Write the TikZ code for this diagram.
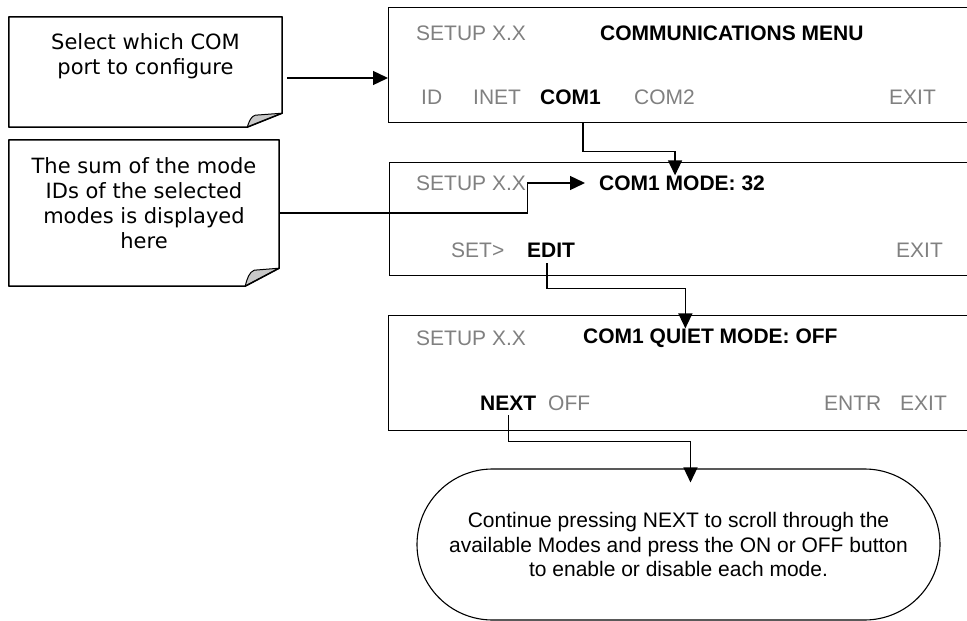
\documentclass[tikz,border=0pt]{standalone}
\usepackage{fontspec}
\setmainfont{Liberation Sans}
\newfontfamily\notefont{DejaVu Sans}
\usetikzlibrary{arrows.meta, positioning}
\definecolor{scrgray}{HTML}{808080}
\definecolor{curlgray}{HTML}{C8C8C8}
\tikzset{
  scr/.style     = {draw, line width=1.4pt, anchor=north west, inner sep=0pt},
  scrdim/.style  = {font=\fontsize{21}{25}\selectfont, text=scrgray, anchor=west, inner sep=0pt},
  scrkey/.style  = {scrdim, text=black, font=\fontsize{21}{25}\selectfont\bfseries},
  callout/.style = {inner sep=0pt},
  calltxt/.style = {font=\notefont\fontsize{21}{25}\selectfont, align=center, inner sep=0pt},
  callline/.style= {line width=1.5pt, line join=round},
  curl/.style    = {draw, line width=1pt, fill=curlgray, line join=round},
  flow/.style    = {-{Triangle[length=15pt, width=14pt]}, line width=1.4pt},
  pill/.style    = {draw, line width=1.1pt, rounded corners=75.5pt, minimum width=523pt,
                    minimum height=151pt, align=center, inner sep=0pt,
                    font=\fontsize{21}{24.5}\selectfont}
}

\begin{document}
\begin{tikzpicture}[x=1pt, y=-1pt]
  \useasboundingbox (0,0) rectangle (967,621);

  \node[scr, minimum width=584pt, minimum height=115pt] (scr1) at (388,7) {};
  \node[scrdim] (s1setup) at (416,33) {SETUP X.X};
  \node[scrkey] (s1title) at (600,33) {COMMUNICATIONS MENU};
  \node[scrdim] (s1id)    at (421,97) {ID};
  \node[scrdim] (s1inet)  at (473,97) {INET};
  \node[scrkey] (com1)    at (540,97) {COM1};
  \node[scrdim] (com2)    at (634,97) {COM2};
  \node[scrdim] (s1exit)  at (889,97) {EXIT};

  \node[scr, minimum width=583pt, minimum height=113pt] (scr2) at (389,162) {};
  \node[scrdim] (s2setup) at (416,183) {SETUP X.X};
  \node[scrkey] (mode)    at (599,183) {COM1 MODE: 32};
  \node[scrdim] (s2set)   at (451,250) {SET>};
  \node[scrkey] (edit)    at (527,250) {EDIT};
  \node[scrdim] (s2exit)  at (896,250) {EXIT};

  \node[scr, minimum width=584pt, minimum height=115pt] (scr3) at (388,315) {};
  \node[scrdim] (s3setup) at (416,338) {SETUP X.X};
  \node[scrkey] (quiet)   at (583,338) {COM1 QUIET MODE: OFF};
  \node[scrkey] (next)    at (480,403) {NEXT};
  \node[scrdim] (s3off)   at (548,403) {OFF};
  \node[scrdim] (s3entr)  at (824,403) {ENTR};
  \node[scrdim] (s3exit)  at (900,403) {EXIT};

  \node[callout, minimum width=273pt, minimum height=110pt] (cal1) at (145.5,72) {};
  \node[calltxt, below=17pt of cal1.north] (cal1txt) {Select which COM\\port to configure};
  \node[callout, minimum width=270pt, minimum height=146pt] (cal2) at (144,213) {};
  \node[calltxt, below=18pt of cal2.north] (cal2txt)
       {The sum of the mode\\IDs of the selected\\modes is displayed\\here};

  \draw[curl] ([xshift=-35pt]cal1.south east)
       .. controls ([xshift=-33pt,yshift=6pt]cal1.south east) and ([xshift=-31pt,yshift=11pt]cal1.south east)
       .. ([xshift=-27pt,yshift=12pt]cal1.south east) -- ([yshift=14pt]cal1.south east) -- cycle;
  \draw[callline] (cal1.north west) -- (cal1.north east) -- ([yshift=14pt]cal1.south east)
       -- ([xshift=-35pt]cal1.south east) -- (cal1.south west) -- cycle;
  \draw[curl] ([xshift=-34pt]cal2.south east)
       .. controls ([xshift=-32pt,yshift=8pt]cal2.south east) and ([xshift=-30pt,yshift=14pt]cal2.south east)
       .. ([xshift=-25pt,yshift=16pt]cal2.south east) -- ([yshift=18pt]cal2.south east) -- cycle;
  \draw[callline] (cal2.north west) -- (cal2.north east) -- ([yshift=18pt]cal2.south east)
       -- ([xshift=-34pt]cal2.south east) -- (cal2.south west) -- cycle;

  \node[pill] (endnote) at (678.5,544.5)
       {Continue pressing NEXT to scroll through the\\available Modes and press the ON or OFF button\\to enable or disable each mode.};

  \coordinate (c1in) at ([yshift=-6pt]cal1.east);
  \coordinate (c2a) at ([xshift=12.5pt]com1.south);
  \draw[flow] ([xshift=5pt]c1in) -- (c1in -| scr1.west);
  \draw[flow] (c2a |- scr1.south) -- ++(0,28) -| ([xshift=-7pt]mode.north);
  \draw[flow] (cal2.east) -- ++(248,0) |- ([xshift=-14pt]mode.west);
  \draw[flow] ([xshift=-4pt,yshift=-6pt]edit.south) -- ++(0,25) -| ([xshift=-25pt]quiet.north);
  \draw[flow] ([yshift=-5pt]next.south) -- ++(0,26) -| ([xshift=12pt,yshift=-14pt]endnote.north);
\end{tikzpicture}
\end{document}
